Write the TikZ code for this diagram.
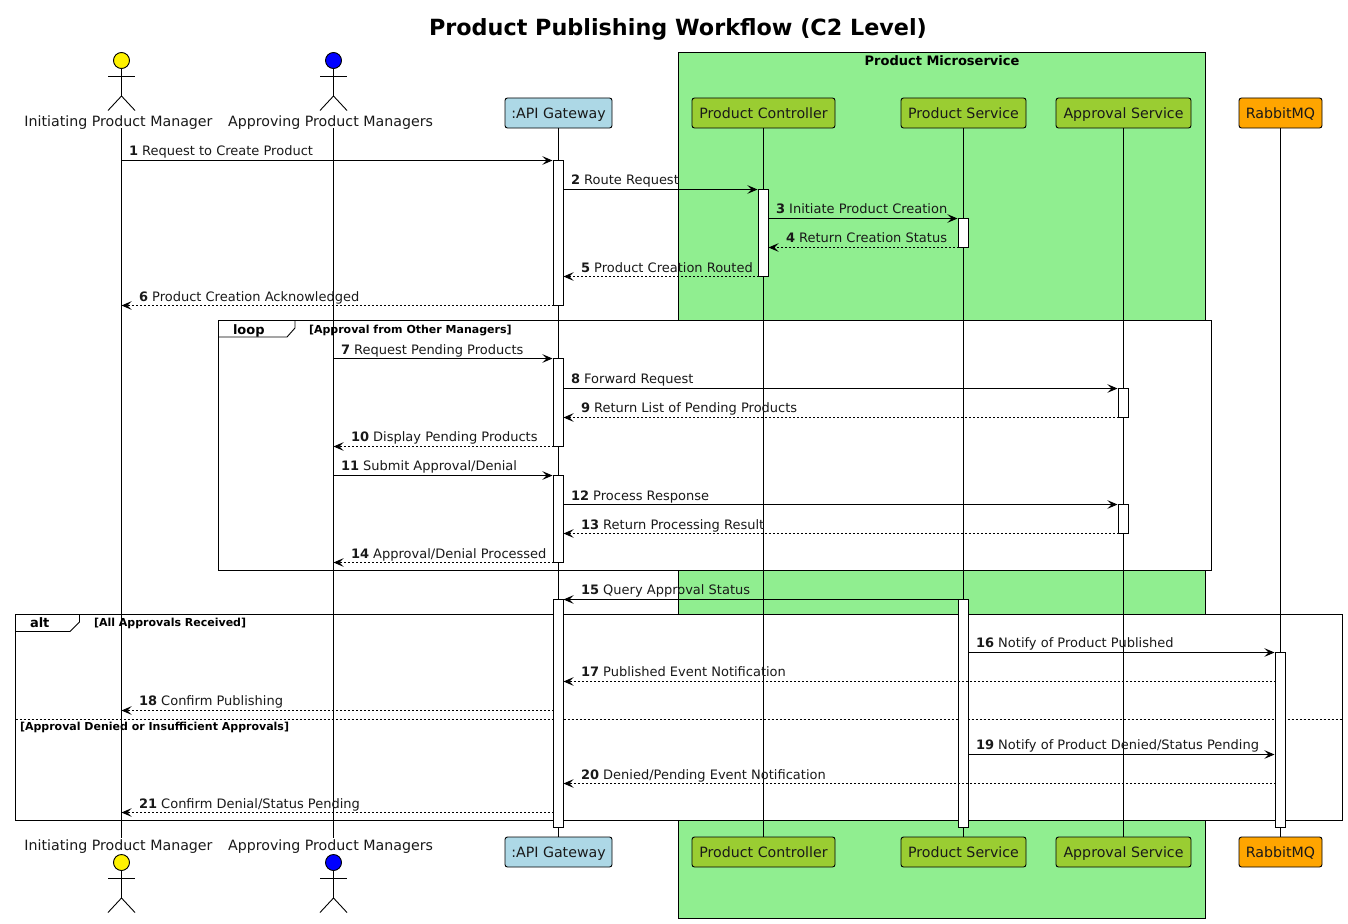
\documentclass[tikz,border=0pt]{standalone}
\usepackage{fontspec}
\setmainfont{DejaVu Sans}
\usetikzlibrary{arrows.meta}
\definecolor{apiblue}{HTML}{ADD8E6}
\definecolor{svcgreen}{HTML}{9ACD32}
\definecolor{boxgreen}{HTML}{90EE90}
\definecolor{rabbit}{HTML}{FFA500}
\tikzset{
  x=1pt,y=-1pt,
  every path/.style={line width=0.9pt},
  every node/.style={outer sep=0pt},
  partbox/.style={draw=black,rounded corners=2.5pt,minimum height=30pt,inner sep=0pt,text height=10pt,text depth=0pt,font=\fontsize{14.2}{16}\selectfont,text=black!90},
  actorlabel/.style={anchor=base,inner sep=0pt,text height=12pt,text depth=2pt,font=\fontsize{14.2}{16}\selectfont,text=black!90},
  actbar/.style={draw=black,fill=white,minimum width=10pt,inner sep=0pt},
  msglabel/.style={anchor=base west,inner sep=0pt,font=\fontsize{13}{15}\selectfont,text=black!90},
  syncmsg/.style={draw=black,-{Stealth[length=10pt,width=8.5pt,inset=4pt]}},
  retmsg/.style={draw=black,dash pattern=on 2pt off 2pt,-{Stealth[length=10pt,width=8.5pt,inset=4pt]}},
  frametab/.style={anchor=base west,inner sep=0pt,font=\bfseries\fontsize{13}{15}\selectfont},
  framecond/.style={anchor=base west,inner sep=0pt,font=\bfseries\fontsize{11}{13}\selectfont},
  framebox/.style={draw=black,fill=white},
}
% name, x, y offset, colour
\newcommand\stickman[4]{%
  \begin{scope}[shift={(#2,#3)}]
    \node[draw=black,fill=#4,circle,minimum size=16pt,inner sep=0pt] (#1) at (0,60.5) {};
    \coordinate (#1hip) at (0,96);
    \coordinate (#1la) at (-13.5,76.5);
    \coordinate (#1ra) at (13.5,76.5);
    \coordinate (#1ll) at (-13.5,110.5);
    \coordinate (#1rl) at (13.5,110.5);
    \draw (#1.south) -- (#1hip);
    \draw (#1la) -- (#1ra);
    \draw (#1ll) -- (#1hip) -- (#1rl);
  \end{scope}}
% style, from x, to x, y, number, text, label x, label baseline
\newcommand\seqmsg[8]{%
  \coordinate (m#5s) at (#2,#4.5);
  \coordinate (m#5e) at (#3,#4.5);
  \draw[#1] (m#5s) -- (m#5e);
  \node[msglabel] (m#5l) at (#7,#8) {\textbf{#5} #6};}
% name, x, y top, y bottom
\newcommand\actbox[4]{%
  \node[actbar,minimum height=#4pt-#3pt] (#1) at (#2,{(#3+#4)/2}) {};}
\begin{document}
\begin{tikzpicture}
\useasboundingbox (0,0) rectangle (1348,923);
\node[inner sep=0pt,font=\bfseries\fontsize{22.3}{26}\selectfont] (title) at (678,29.5) {Product Publishing Workflow (C2 Level)};
% group box
\node[draw=black,fill=boxgreen,minimum width=527pt,minimum height=866pt,inner sep=0pt,anchor=north west] (group) at (678.5,52.5) {};
\node[inner sep=0pt,font=\bfseries\fontsize{13}{15}\selectfont] (grouptitle) at (942,61) {Product Microservice};
% actors
\stickman{ipm}{121.5}{0}{yellow}
\stickman{apm}{333.5}{0}{blue}
\stickman{ipmb}{121.5}{802}{yellow}
\stickman{apmb}{333.5}{802}{blue}
\node[actorlabel] (ipmt) at (118.5,126) {Initiating Product Manager};
\node[actorlabel] (apmt) at (330.5,126) {Approving Product Managers};
\node[actorlabel] (ipmf) at (118.5,850) {Initiating Product Manager};
\node[actorlabel] (apmf) at (330.5,850) {Approving Product Managers};
% frames
\node[framebox,minimum width=993pt,minimum height=250pt,inner sep=0pt,anchor=north west] (loopframe) at (218.5,320.5) {};
\coordinate (lt1) at (295,320.5);\coordinate (lt2) at (295,328);\coordinate (lt3) at (287,337);\coordinate (lt4) at (218.5,337);
\draw (lt1) -- (lt2) -- (lt3) -- (lt4);
\node[frametab] (looplabel) at (233,334) {loop};
\node[framecond] (loopcond) at (309,333) {[Approval from Other Managers]};
\node[framebox,minimum width=1327pt,minimum height=206pt,inner sep=0pt,anchor=north west] (altframe) at (15.5,614.5) {};
\coordinate (at1) at (79.5,614.5);\coordinate (at2) at (79.5,622);\coordinate (at3) at (70,631.5);\coordinate (at4) at (15.5,631.5);
\draw (at1) -- (at2) -- (at3) -- (at4);
\node[frametab] (altlabel) at (30,627) {alt};
\node[framecond] (altcond) at (94,626) {[All Approvals Received]};
\coordinate (divl) at (15.5,719.5);\coordinate (divr) at (1342.5,719.5);
\draw[dash pattern=on 2pt off 2pt] (divl) -- (divr);
\node[framecond] (altcond2) at (20,730) {[Approval Denied or Insufficient Approvals]};
% participants
\foreach \nm/\xx/\ww/\cc/\tt in {api/558.5/107/apiblue/:API Gateway,ctl/763.5/143/svcgreen/Product Controller,svc/963.5/125/svcgreen/Product Service,apr/1123.5/135/svcgreen/Approval Service,rmq/1280.5/83/rabbit/RabbitMQ}{
  \node[partbox,fill=\cc,minimum width=\ww pt] (\nm t) at (\xx,113) {\tt};
  \node[partbox,fill=\cc,minimum width=\ww pt] (\nm f) at (\xx,852) {\tt};
}
% lifelines
\draw (ipmt.south -| ipm) -- (ipmf.north -| ipm);
\draw (apmt.south -| apm) -- (apmf.north -| apm);
\draw (apit.south) -- (apif.north);
\draw (ctlt.south) -- (ctlf.north);
\draw (svct.south) -- (svcf.north);
\draw (aprt.south) -- (aprf.north);
\draw (rmqt.south) -- (rmqf.north);
% activations
\actbox{a1}{558.5}{160.5}{305.5}
\actbox{a2}{558.5}{358.5}{446.5}
\actbox{a3}{558.5}{475.5}{562.5}
\actbox{a4}{558.5}{599.5}{827.5}
\actbox{c1}{763.5}{189.5}{276.5}
\actbox{s1}{963.5}{218.5}{247.5}
\actbox{s2}{963.5}{599.5}{827.5}
\actbox{p1}{1123.5}{388.5}{417.5}
\actbox{p2}{1123.5}{504.5}{533.5}
\actbox{r1}{1280.5}{652.5}{827.5}
% messages
\seqmsg{syncmsg}{121.5}{552.5}{160}{1}{Request to Create Product}{129}{155}
\seqmsg{syncmsg}{563.5}{757.5}{189}{2}{Route Request}{571}{184}
\seqmsg{syncmsg}{768.5}{957.5}{218}{3}{Initiate Product Creation}{776}{213}
\seqmsg{retmsg}{958.5}{768.5}{247}{4}{Return Creation Status}{786}{242}
\seqmsg{retmsg}{758.5}{563.5}{276}{5}{Product Creation Routed}{581}{272}
\seqmsg{retmsg}{553.5}{121.5}{305}{6}{Product Creation Acknowledged}{139}{301}
\seqmsg{syncmsg}{333.5}{552.5}{358}{7}{Request Pending Products}{341}{354}
\seqmsg{syncmsg}{563.5}{1117.5}{388}{8}{Forward Request}{571}{383}
\seqmsg{retmsg}{1118.5}{563.5}{417}{9}{Return List of Pending Products}{581}{412}
\seqmsg{retmsg}{553.5}{333.5}{446}{10}{Display Pending Products}{351}{441}
\seqmsg{syncmsg}{333.5}{552.5}{475}{11}{Submit Approval/Denial}{341}{470}
\seqmsg{syncmsg}{563.5}{1117.5}{504}{12}{Process Response}{571}{500}
\seqmsg{retmsg}{1118.5}{563.5}{533}{13}{Return Processing Result}{581}{529}
\seqmsg{retmsg}{553.5}{333.5}{562}{14}{Approval/Denial Processed}{351}{558}
\seqmsg{syncmsg}{958.5}{563.5}{599}{15}{Query Approval Status}{581}{594}
\seqmsg{syncmsg}{968.5}{1274.5}{652}{16}{Notify of Product Published}{976}{647}
\seqmsg{retmsg}{1275.5}{563.5}{681}{17}{Published Event Notification}{581}{676}
\seqmsg{retmsg}{553.5}{121.5}{710}{18}{Confirm Publishing}{139}{705}
\seqmsg{syncmsg}{968.5}{1274.5}{754}{19}{Notify of Product Denied/Status Pending}{976}{749}
\seqmsg{retmsg}{1275.5}{563.5}{783}{20}{Denied/Pending Event Notification}{581}{779}
\seqmsg{retmsg}{553.5}{121.5}{812}{21}{Confirm Denial/Status Pending}{139}{808}
\end{tikzpicture}
\end{document}
